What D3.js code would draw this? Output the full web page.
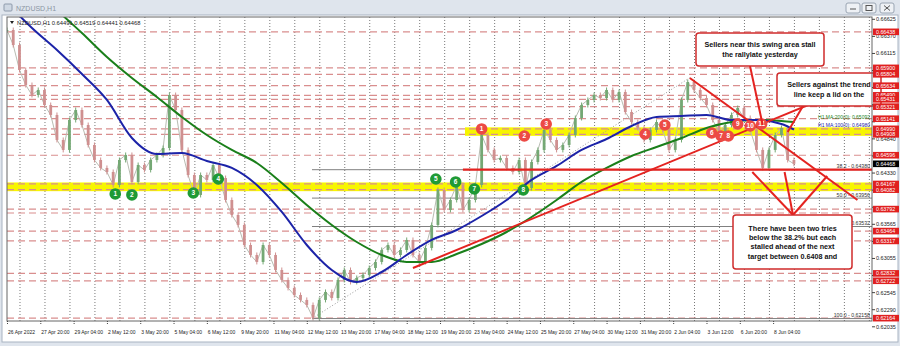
<!DOCTYPE html>
<html><head><meta charset="utf-8">
<script src="https://cdn.jsdelivr.net/npm/d3@7"></script>
<style>
html,body{margin:0;padding:0;background:#dfe5ed;}
svg{display:block;font-family:"Liberation Sans",Arial,sans-serif;}
</style></head><body>
<svg id="chart" width="900" height="346"></svg>
<script>
// ---- data ----
const symbol = 'NZDUSD,H1';
const ohlcNow = ['0.64491', '0.64519', '0.64441', '0.64468'];
const barStep = 6;          // one close every 6 H1 bars
const closes = [0.66465,0.66241,0.65868,0.65644,0.65495,0.65570,0.65346,0.65197,0.64824,0.64675,
  0.65122,0.65271,0.65047,0.64749,0.64525,0.64406,0.64346,0.64152,0.64525,0.64600,
  0.64197,0.64450,0.64376,0.64525,0.64600,0.64704,0.65495,0.65271,0.64675,0.64301,
  0.64003,0.64301,0.64227,0.64450,0.64256,0.63928,0.63704,0.63555,0.63256,0.63107,
  0.63003,0.63256,0.63107,0.62883,0.62734,0.62615,0.62510,0.62436,0.62361,0.62167,
  0.62436,0.62555,0.62465,0.62734,0.62883,0.62704,0.62764,0.62809,0.62913,0.63003,
  0.63182,0.63256,0.63107,0.63182,0.63331,0.63107,0.63003,0.63212,0.63555,0.64077,
  0.63779,0.63928,0.64152,0.63779,0.63928,0.64152,0.64898,0.64675,0.64525,0.64555,
  0.64406,0.64346,0.64525,0.64107,0.64495,0.64675,0.64973,0.64824,0.64675,0.64749,
  0.64898,0.65152,0.65346,0.65421,0.65495,0.65450,0.65570,0.65421,0.65540,0.65241,
  0.65092,0.65003,0.64824,0.64973,0.65092,0.64973,0.64675,0.64824,0.65421,0.65689,
  0.65570,0.65450,0.65346,0.65122,0.64943,0.65047,0.65197,0.65301,0.65152,0.64973,
  0.64675,0.64406,0.64675,0.64898,0.65003,0.64525,0.64468];
const maStep = 24;          // one MA value per day (24 bars), last one at the last bar
const ma100 = [0.66868,0.66495,0.66167,0.65809,0.65421,0.64853,0.64615,0.64629,0.64510,0.64406,
  0.64152,0.63749,0.63256,0.62883,0.62704,0.62853,0.63107,0.63331,0.63480,0.63689,
  0.63928,0.64227,0.64436,0.64675,0.64838,0.65032,0.65167,0.65182,0.65197,0.65122,
  0.65122,0.65062,0.64980];
const ma200 = [0.67510,0.67137,0.66764,0.66420,0.66062,0.65749,0.65465,0.65167,0.64898,0.64675,
  0.64480,0.64182,0.63853,0.63555,0.63301,0.63107,0.63003,0.63003,0.63122,0.63271,
  0.63450,0.63674,0.63928,0.64197,0.64406,0.64585,0.64719,0.64853,0.65003,0.65092,
  0.65122,0.65107,0.65092];
const lastBar = 756;
const priceTicks = [0.66625,0.66370,0.66115,0.65860,0.65605,0.65350,0.65095,0.64840,0.64585,0.64330,
  0.64075,0.63820,0.63565,0.63310,0.63055,0.62800,0.62545,0.62290,0.62035];
const timeLabels = ['26 Apr 2022','27 Apr 20:00','29 Apr 04:00','2 May 12:00','3 May 20:00','5 May 04:00',
  '6 May 12:00','9 May 20:00','11 May 04:00','12 May 12:00','13 May 20:00','17 May 04:00','18 May 12:00',
  '19 May 20:00','23 May 04:00','24 May 12:00','25 May 20:00','27 May 04:00','30 May 12:00','31 May 20:00',
  '2 Jun 04:00','3 Jun 12:00','6 Jun 20:00','8 Jun 04:00'];
const labelEvery = 32;      // bars between time labels
const firstMidnight = 12;   // first day boundary (bar index)
const levels = [0.66438,0.65900,0.65804,0.65634,0.65490,0.65431,0.65321,0.65141,0.64990,0.64908,
  0.64596,0.64167,0.64082,0.63792,0.63464,0.63317,0.62832,0.62722,0.62164];
const extraLevels = [0.63734];   // dashed line whose label sits under 0.63792
const bandLow = [0.64908, 0.64082];
const bandHigh = [0.64990, 0.64167];
const bandStart = [440, 0];
const fibLevels = ['38.2', '50.0', '61.8', '100.0'];
const fibPrices = [0.64380, 0.63956, 0.63532, 0.62158];
const fibFrom = { bar: 293, price: 0.62158 };
const fibTo = { bar: 656, price: 0.65753 };
const supportLine = { from: 438, to: 831, price: 0.64380 };
const upTrend = [[390, 0.62913], [800, 0.65540]];
const downTrend = [[656, 0.65749], [817, 0.63928]];
const redNums = ['1','2','3','4','5','6','7','8','9','10','11'];
const redBars = [456, 497, 518, 613, 632, 677, 686, 693, 702, 714, 725];
const redPrices = [0.64988, 0.64883, 0.65062, 0.64913, 0.65047, 0.64928, 0.64883, 0.64883, 0.65062, 0.65032, 0.65062];
const greenNums = ['1','2','3','4','5','6','7','8'];
const greenBars = [104, 120, 179, 203, 412, 431, 449, 496];
const greenPrices = [0.64018, 0.64003, 0.64032, 0.64241, 0.64241, 0.64197, 0.64092, 0.64077];
const maTexts = ['H1 MA:200(0): 0.65092', 'H1 MA:100(0): 0.64980'];
const notes = [
  ['Sellers near this swing area stall', 'the rallylate yesterday'],
  ['Sellers against the trend', 'line keep a lid on the'],
  ['There have been two tries', 'below the 38.2% but each', 'stalled ahead of the next', 'target between 0.6408 and']
];
// [note, bar, price] each callout arrow points at
const pointers = [[0, 726, 0.65047], [1, 750, 0.64943], [2, 716, 0.64346], [2, 747, 0.64346], [2, 788, 0.64286]];

// ---- layout ----
const W = 900, H = 346;
const plot = { l: 7, t: 17, r: 872, b: 321 };
const noteBoxes = [{ x: 696, y: 33, w: 128, h: 33 }, { x: 777, y: 73, w: 104, h: 33 }, { x: 733, y: 215, w: 119, h: 54 }];
const noteAnchors = [[750, 66], [803, 106], [793, 215]];
const upCol = '#74a874', downCol = '#cf9090';

const svg = d3.select('#chart');
const x = d3.scaleLinear().domain([0, 831]).range([plot.l, plot.r]);
const y = d3.scaleLinear().domain([0.62035, 0.66625]).range([326.8, 19.3]);

// window chrome
svg.append('rect').attr('width', W).attr('height', H).attr('fill', '#dfe5ed');
svg.append('rect').attr('x', 2).attr('y', 15).attr('width', 896).attr('height', 327).attr('fill', '#fff').attr('stroke', '#a9b4c2');
svg.append('rect').attr('x', 4).attr('y', 4).attr('width', 8).attr('height', 7).attr('fill', '#cfd8e3').attr('stroke', '#8e9aab').attr('rx', 1);
svg.append('text').attr('x', 16).attr('y', 11).attr('font-size', 7).attr('fill', '#8b95a3').text(symbol);
[846, 862, 880].forEach((bx, i) => {
  svg.append('rect').attr('x', bx).attr('y', 3).attr('width', 14).attr('height', 10).attr('rx', 2)
    .attr('fill', '#eef1f5').attr('stroke', '#9aa5b3');
  if (i === 0) svg.append('line').attr('x1', bx + 4).attr('x2', bx + 10).attr('y1', 9).attr('y2', 9).attr('stroke', '#555');
  if (i === 1) svg.append('rect').attr('x', bx + 4).attr('y', 5.5).attr('width', 6).attr('height', 5).attr('fill', 'none').attr('stroke', '#555');
  if (i === 2) svg.append('path').attr('d', `M${bx + 4},5.5L${bx + 10},10.5M${bx + 10},5.5L${bx + 4},10.5`).attr('stroke', '#555');
});

svg.append('clipPath').attr('id', 'clip').append('rect')
  .attr('x', plot.l).attr('y', plot.t).attr('width', plot.r - plot.l).attr('height', plot.b - plot.t);
const g = svg.append('g').attr('clip-path', 'url(#clip)');

// day grid (dotted)
const days = d3.range(firstMidnight, 831, 24);
g.selectAll('.vgrid').data(days).enter().append('line')
  .attr('x1', d => x(d) + 0.5).attr('x2', d => x(d) + 0.5).attr('y1', plot.t).attr('y2', plot.b)
  .attr('stroke', '#555').attr('stroke-dasharray', '1,2').attr('stroke-width', 0.8);

// yellow zones
bandLow.forEach((lo, i) => {
  g.append('rect').attr('x', x(bandStart[i])).attr('width', plot.r - x(bandStart[i]))
    .attr('y', y(bandHigh[i]) - 1.5).attr('height', y(lo) - y(bandHigh[i]) + 3).attr('fill', '#f7f500');
});

// horizontal levels (dashed)
g.selectAll('.lvl').data(levels.concat(extraLevels)).enter().append('line')
  .attr('x1', plot.l).attr('x2', plot.r).attr('y1', d => y(d)).attr('y2', d => y(d))
  .attr('stroke', '#d98e8e').attr('stroke-width', 1.2).attr('stroke-dasharray', '7,4');

// fibonacci
fibPrices.forEach((p, i) => {
  g.append('line').attr('x1', x(fibFrom.bar)).attr('x2', plot.r).attr('y1', y(p)).attr('y2', y(p))
    .attr('stroke', '#808080').attr('stroke-width', 1);
  g.append('text').attr('x', plot.r - 2).attr('y', y(p) - 1.5).attr('text-anchor', 'end')
    .attr('font-size', 5.2).attr('fill', '#333').text(fibLevels[i] + ' - ' + p.toFixed(5));
});
g.append('line').attr('x1', x(fibFrom.bar)).attr('y1', y(fibFrom.price)).attr('x2', x(fibTo.bar)).attr('y2', y(fibTo.price))
  .attr('stroke', '#999').attr('stroke-dasharray', '1,2');

// price: close path + candles (body from previous close, short wick)
const bars = closes.map((c, i) => ({ bar: i * barStep, open: i ? closes[i - 1] : c, close: c }));
g.append('path').datum(bars)
  .attr('d', d3.line().x(d => x(d.bar)).y(d => y(d.close)))
  .attr('fill', 'none').attr('stroke', '#b8bcb2').attr('stroke-width', 1);
const cg = g.selectAll('.candle').data(bars).enter().append('g')
  .attr('fill', d => d.close >= d.open ? upCol : downCol).attr('stroke', d => d.close >= d.open ? upCol : downCol);
cg.append('line').attr('x1', d => x(d.bar)).attr('x2', d => x(d.bar))
  .attr('y1', d => y(Math.max(d.open, d.close)) - 2.5).attr('y2', d => y(Math.min(d.open, d.close)) + 2.5)
  .attr('stroke-width', 1);
cg.append('rect').attr('x', d => x(d.bar) - 1.4).attr('width', 2.8).attr('stroke', 'none')
  .attr('y', d => y(Math.max(d.open, d.close)))
  .attr('height', d => Math.max(1, Math.abs(y(d.open) - y(d.close))));

// moving averages
const maLine = d3.line().curve(d3.curveMonotoneX)
  .x((d, i) => x(Math.min(i * maStep, lastBar))).y(d => y(d));
g.append('path').datum(ma200).attr('d', maLine).attr('fill', 'none').attr('stroke', '#1a7f1a').attr('stroke-width', 2);
g.append('path').datum(ma100).attr('d', maLine).attr('fill', 'none').attr('stroke', '#1c23a8').attr('stroke-width', 2);
maTexts.forEach((t, i) => {
  g.append('text').attr('x', plot.r - 2).attr('y', (i ? y(ma100[ma100.length - 1]) : y(ma200[ma200.length - 1])) - 3)
    .attr('text-anchor', 'end').attr('font-size', 5).attr('fill', i ? '#1c23a8' : '#1a7f1a').text(t);
});

// trend lines
g.append('line').attr('x1', x(supportLine.from)).attr('x2', x(supportLine.to))
  .attr('y1', y(supportLine.price)).attr('y2', y(supportLine.price)).attr('stroke', '#e42320').attr('stroke-width', 2.2);
[upTrend, downTrend].forEach(t => {
  g.append('line').attr('x1', x(t[0][0])).attr('y1', y(t[0][1])).attr('x2', x(t[1][0])).attr('y2', y(t[1][1]))
    .attr('stroke', '#e42320').attr('stroke-width', 2);
});

// numbered swing markers
function markers(nums, bs, ps, fill) {
  nums.forEach((n, i) => {
    const mg = g.append('g').attr('transform', `translate(${x(bs[i])},${y(ps[i])})`);
    mg.append('circle').attr('r', 5.8).attr('fill', fill);
    mg.append('text').attr('y', 2.3).attr('text-anchor', 'middle').attr('font-size', 6.5)
      .attr('font-weight', 'bold').attr('fill', '#fff').text(n);
  });
}
markers(greenNums, greenBars, greenPrices, '#1f9a35');
markers(redNums, redBars, redPrices, '#ec4a45');

// callouts
pointers.forEach(([ni, b, p]) => {
  svg.append('line').attr('x1', noteAnchors[ni][0]).attr('y1', noteAnchors[ni][1]).attr('x2', x(b)).attr('y2', y(p))
    .attr('stroke', '#e42320').attr('stroke-width', 2);
});
notes.forEach((lines, i) => {
  const b = noteBoxes[i];
  svg.append('rect').attr('x', b.x).attr('y', b.y).attr('width', b.w).attr('height', b.h).attr('rx', 3)
    .attr('fill', '#fff').attr('stroke', '#cf2b2b').attr('stroke-width', 1.5);
  const t = svg.append('text').attr('text-anchor', 'middle').attr('font-size', 7.2).attr('font-weight', 'bold').attr('fill', '#111');
  const lh = 9.3, top = b.y + b.h / 2 - (lines.length - 1) * lh / 2 + 2.6;
  lines.forEach((l, j) => t.append('tspan').attr('x', b.x + b.w / 2).attr('y', top + j * lh).text(l));
});

// frame
svg.append('rect').attr('x', plot.l).attr('y', plot.t).attr('width', plot.r - plot.l).attr('height', plot.b - plot.t)
  .attr('fill', 'none').attr('stroke', '#666').attr('stroke-width', 1);

// header
svg.append('path').attr('d', `M10,21L14,21L12,24Z`).attr('fill', '#222');
svg.append('text').attr('x', 17).attr('y', 25).attr('font-size', 5.8).attr('fill', '#222')
  .text(symbol + '  ' + ohlcNow.join(' '));

// price axis
const ya = svg.append('g');
const covered = p => levels.some(l => Math.abs(y(l) - y(p)) < 3.5) || Math.abs(y(closes[closes.length - 1]) - y(p)) < 3.5;
ya.selectAll('.tk').data(priceTicks).enter().append('line')
  .attr('x1', plot.r).attr('x2', plot.r + 3).attr('y1', d => y(d)).attr('y2', d => y(d)).attr('stroke', '#444');
ya.selectAll('.tl').data(priceTicks.filter(p => !covered(p))).enter().append('text')
  .attr('x', plot.r + 4).attr('y', d => y(d) + 2).attr('font-size', 5.5).attr('fill', '#222').text(d => d.toFixed(5));
const lv = ya.selectAll('.lv').data(levels).enter().append('g').attr('transform', d => `translate(${plot.r + 1},${y(d)})`);
lv.append('rect').attr('y', -3.3).attr('width', 26).attr('height', 6.6).attr('fill', '#e0201f');
lv.append('text').attr('x', 3).attr('y', 1.9).attr('font-size', 5.3).attr('fill', '#fff').text(d => d.toFixed(5));
const cur = ya.append('g').attr('transform', `translate(${plot.r + 1},${y(closes[closes.length - 1])})`);
cur.append('rect').attr('y', -3.3).attr('width', 26).attr('height', 6.6).attr('fill', '#000');
cur.append('text').attr('x', 3).attr('y', 1.9).attr('font-size', 5.3).attr('fill', '#fff').text(closes[closes.length - 1].toFixed(5));

// time axis
const xa = svg.append('g');
xa.selectAll('.xt').data(timeLabels).enter().append('line')
  .attr('x1', (d, i) => x(i * labelEvery) + 0.5).attr('x2', (d, i) => x(i * labelEvery) + 0.5)
  .attr('y1', plot.b).attr('y2', plot.b + 4).attr('stroke', '#444').attr('stroke-dasharray', '1,1');
xa.selectAll('.xl').data(timeLabels).enter().append('text')
  .attr('x', (d, i) => x(i * labelEvery) + 1).attr('y', 334).attr('font-size', 5).attr('fill', '#222').text(d => d);
</script>
</body></html>
